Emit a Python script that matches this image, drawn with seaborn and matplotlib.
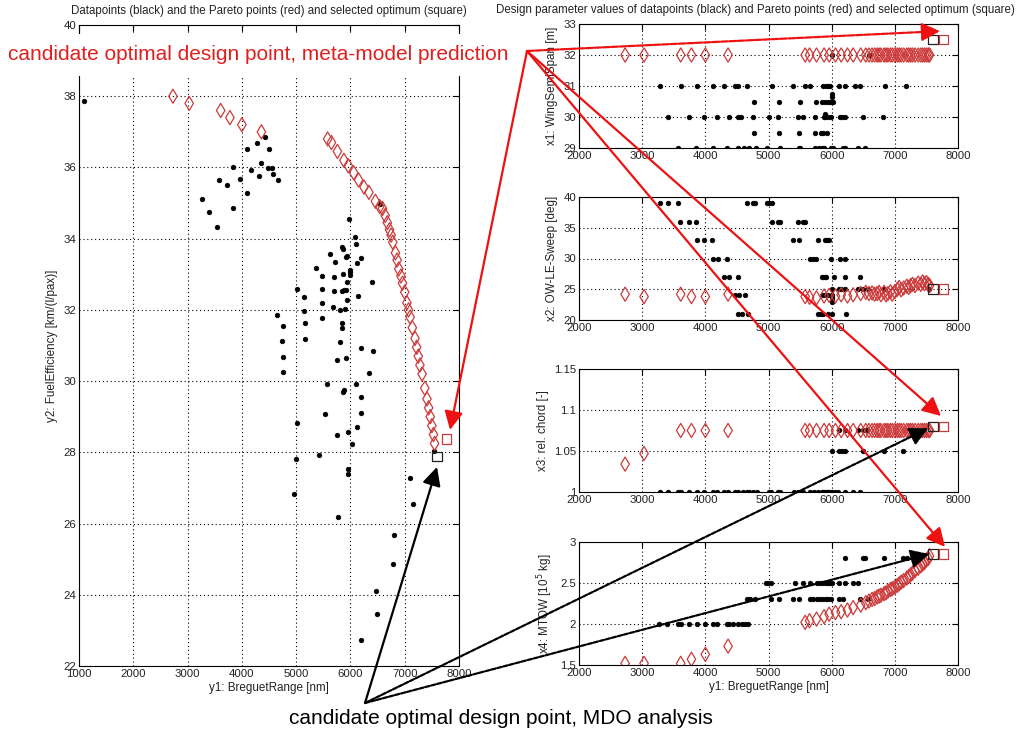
import numpy as np
import pandas as pd
import matplotlib
matplotlib.use("Agg")
import matplotlib.pyplot as plt
import seaborn as sns
from matplotlib.patches import ConnectionPatch
from matplotlib.ticker import FormatStrFormatter

sns.set_theme(style="white")
plt.rcParams['font.family'] = ['Liberation Sans', 'DejaVu Sans']

# ---------------- data: objectives of datapoints (black) ----------------
range_black = [1100, 3260, 3395, 3537, 3585, 3721, 3830, 3842, 3966, 4089,
               4089, 4168, 4273, 4322, 4353, 4432, 4494, 4487, 4549, 4580,
               4660, 4641, 4751, 4733, 4751, 4764, 5021, 5144, 5144, 5163,
               5163, 5365, 5470, 5470, 5470, 5470, 5623, 5716, 5703, 5703,
               5685, 5808, 5808, 5758, 5837, 5870, 5856, 5850, 5880, 5893,
               5845, 5839, 5911, 5930, 5930, 5920, 5942, 5918, 5979, 5991,
               5991, 5991, 6084, 6102, 6115, 6188, 6145, 6188, 6391, 6421,
               6347, 6545, 5562, 6102, 5881, 5870, 6188, 5008, 5532, 6194,
               6115, 5961, 5758, 6022, 7546, 4997, 5427, 5961, 5961, 4960,
               5777, 7098, 7147, 6808, 6790, 6465, 6495, 6188]
eff_black = [37.87, 35.11, 34.76, 34.32, 35.65, 35.51, 34.87, 36.0, 35.67, 36.51,
             35.27, 35.93, 36.68, 35.76, 36.13, 36.85, 36.51, 35.98, 35.98, 35.81,
             35.65, 31.86, 31.55, 31.13, 30.69, 30.26, 32.6, 32.35, 31.98, 31.62,
             31.19, 33.17, 32.95, 32.58, 32.2, 31.78, 33.57, 33.35, 32.93, 32.54,
             32.07, 32.0, 31.11, 30.59, 33.76, 33.7, 33.0, 32.53, 32.55, 32.03,
             31.62, 31.5, 33.49, 33.5, 32.79, 32.55, 32.28, 30.64, 34.54, 33.12,
             33.05, 32.98, 34.06, 33.85, 33.31, 33.45, 32.4, 30.94, 32.78, 30.85,
             30.24, 34.97, 29.93, 29.92, 29.75, 29.7, 29.56, 28.81, 29.07, 29.1,
             28.7, 28.58, 28.49, 28.23, 28.05, 27.81, 27.92, 27.52, 27.4, 26.82,
             26.18, 27.27, 26.55, 25.67, 24.86, 24.11, 23.46, 22.73]

# ---------------- data: Pareto points (red) ----------------
range_pareto = [2730, 3030, 3610, 3780, 4000, 4360, 5580, 5650, 5760, 5880,
                5960, 6060, 6150, 6250, 6340, 6460, 6540, 6590, 6640, 6680,
                6720, 6750, 6780, 6830, 6860, 6890, 6930, 6960, 7000, 7040,
                7070, 7100, 7140, 7190, 7220, 7250, 7280, 7320, 7370, 7410,
                7440, 7470, 7500, 7530, 7550]
eff_pareto = [38.0, 37.8, 37.6, 37.4, 37.2, 37.0, 36.8, 36.7, 36.45, 36.2,
              36.05, 35.85, 35.65, 35.45, 35.3, 35.05, 34.9, 34.85, 34.65, 34.45,
              34.25, 34.1, 33.9, 33.6, 33.4, 33.15, 32.95, 32.75, 32.5, 32.2,
              32.0, 31.8, 31.5, 31.2, 30.95, 30.7, 30.45, 30.2, 29.8, 29.5,
              29.25, 29.0, 28.75, 28.5, 28.25]
span_pareto = [32, 32, 32, 32, 32, 32, 32, 32, 32, 32,
               32, 32, 32, 32, 32, 32, 32, 32, 32, 32,
               32, 32, 32, 32, 32, 32, 32, 32, 32, 32,
               32, 32, 32, 32, 32, 32, 32, 32, 32, 32,
               32, 32, 32, 32, 32]
sweep_pareto = [24.2, 23.8, 24.2, 23.8, 23.8, 24.2, 23.8, 23.7, 23.6, 23.9,
                24.0, 23.9, 24.1, 23.9, 24.1, 24.3, 24.5, 24.3, 24.4, 24.2,
                24.3, 24.5, 24.1, 24.5, 24.1, 24.3, 24.6, 24.2, 24.6, 25.0,
                25.3, 24.9, 25.2, 25.5, 25.3, 25.6, 25.8, 25.6, 26.0, 25.8,
                26.2, 25.9, 26.1, 25.8, 25.6]
chord_pareto = [1.034, 1.047, 1.075, 1.075, 1.075, 1.075, 1.075, 1.075, 1.075, 1.075,
                1.075, 1.075, 1.075, 1.075, 1.075, 1.075, 1.075, 1.075, 1.075, 1.075,
                1.075, 1.075, 1.075, 1.075, 1.075, 1.075, 1.075, 1.075, 1.075, 1.075,
                1.075, 1.075, 1.075, 1.075, 1.075, 1.075, 1.075, 1.075, 1.075, 1.075,
                1.075, 1.075, 1.075, 1.075, 1.075]
mtow_pareto = [1.52, 1.52, 1.52, 1.57, 1.63, 1.73, 2.02, 2.04, 2.06, 2.09,
               2.12, 2.14, 2.15, 2.17, 2.20, 2.23, 2.26, 2.28, 2.30, 2.31,
               2.33, 2.34, 2.35, 2.37, 2.38, 2.40, 2.42, 2.43, 2.45, 2.47,
               2.49, 2.51, 2.53, 2.56, 2.58, 2.60, 2.62, 2.65, 2.68, 2.71,
               2.73, 2.75, 2.78, 2.80, 2.83]

# ---------------- data: selected optimum (squares) ----------------
opt_labels = ["MDO analysis", "meta-model prediction"]
opt_range = [7600, 7770]
opt_eff = [27.88, 28.38]
opt_span = [32.5, 32.5]
opt_sweep = [25.0, 25.0]
opt_chord = [1.08, 1.08]
opt_mtow = [2.85, 2.85]

# ---------------- data: design parameters of datapoints (black) ----------------
span_31 = [3282, 3610, 3873, 4116, 4295, 4470, 4522, 4654, 5050, 5393, 5578, 5657,
           5868, 5910, 5947, 5974, 6121, 6211, 6369, 6449, 6844, 7177]
span_305 = [4776, 5161, 5499, 5752, 5842, 5895, 5947, 5974, 6000, 6026]
span_30 = [3404, 3741, 3979, 4190, 4380, 4522, 4559, 4760, 5013, 5156, 5473, 5552,
           5742, 5879, 5895, 5947, 5984, 6132, 6158, 6211, 6491, 6818]
span_295 = [4776, 5172, 5488, 5736, 5831, 5868, 5921]
span_29 = [3562, 3852, 4116, 4348, 4512, 4612, 4697, 4802, 4982, 5182, 5488, 5499,
           5731, 5794, 5842, 5879, 5984, 6016, 6185, 6211, 6422, 6528]
span_32 = [6000, 6590]
span_extra_x = [6000, 6010, 5900]
span_extra_y = [30.65, 30.73, 30.1]

sweep_39 = [3282, 3414, 3562, 4654, 4760, 4786, 4982, 5013, 5050]
sweep_36 = [3599, 3747, 3852, 5050, 5156, 5182, 5473, 5552, 5578]
sweep_33 = [3863, 3979, 4111, 5383, 5488, 5789, 5895, 5921, 5958]
sweep_30 = [4116, 4206, 4348, 5657, 5710, 5752, 5984, 6132, 6211]
sweep_27 = [4295, 4380, 4522, 5842, 5868, 5895, 5910, 6037, 6211, 6449]
sweep_25 = [5999, 6121, 6142, 6211, 6422, 6501, 6580, 6828, 7546]
sweep_24 = [4470, 4538, 4628, 5868, 5910, 5947, 6000]
sweep_21 = [4512, 4575, 4681, 5789, 5831, 5868, 5947, 6000, 6227]
sweep_extra_x = [6000, 6000, 6005]
sweep_extra_y = [23.5, 23.2, 22.9]

chord_100 = [3282, 3414, 3573, 3610, 3741, 3863, 3979, 4116, 4190, 4295, 4364, 4470,
             4522, 4591, 4654, 4697, 4760, 4813, 5013, 5034, 5156, 5182, 5404, 5473,
             5499, 5552, 5657, 5726, 5789, 5842, 5868, 5895, 5921, 5947, 5974, 6000,
             6053, 6106, 6211, 6343, 6449]
chord_105 = [6000, 6121, 6158, 6211, 6501, 6828, 7124]
chord_1075 = [6121, 6211, 6422, 6501, 6554]

mtow_28 = [6211, 6501, 6528, 6828, 7124, 7188]
mtow_25 = [4960, 4997, 5034, 5420, 5552, 5657, 5773, 5815, 5868, 5910, 5947, 5974,
           6000, 6121, 6211, 6343, 6422]
mtow_23 = [4654, 4707, 4786, 5034, 5172, 5393, 5488, 5657, 5710, 5773, 5815, 5868,
           5910, 5947, 5984, 6121, 6174, 6449, 6580]
mtow_20 = [3272, 3388, 3573, 3610, 3741, 3863, 3995, 4116, 4190, 4338, 4380, 4443,
           4522, 4575, 4628, 4681]


def levels(pairs, extra_x=(), extra_y=()):
    xs, ys = [], []
    for lvl, arr in pairs:
        xs += list(arr)
        ys += [lvl] * len(arr)
    xs += list(extra_x)
    ys += list(extra_y)
    return pd.DataFrame({"range": xs, "val": ys})


df_span = levels([(31, span_31), (30.5, span_305), (30, span_30), (29.5, span_295),
                  (29, span_29), (32, span_32)], span_extra_x, span_extra_y)
df_sweep = levels([(39, sweep_39), (36, sweep_36), (33, sweep_33), (30, sweep_30),
                   (27, sweep_27), (25, sweep_25), (24, sweep_24), (21, sweep_21)],
                  sweep_extra_x, sweep_extra_y)
df_chord = levels([(1.0, chord_100), (1.05, chord_105), (1.075, chord_1075)])
df_mtow = levels([(2.8, mtow_28), (2.5, mtow_25), (2.3, mtow_23), (2.0, mtow_20)])

df_left = pd.DataFrame({"range": range_black, "val": eff_black})
df_par = pd.DataFrame({"range": range_pareto, "eff": eff_pareto, "span": span_pareto,
                       "sweep": sweep_pareto, "chord": chord_pareto, "mtow": mtow_pareto})
df_opt = pd.DataFrame({"label": opt_labels, "range": opt_range, "eff": opt_eff,
                       "span": opt_span, "sweep": opt_sweep, "chord": opt_chord,
                       "mtow": opt_mtow})

RED_MK = '#cc3a3a'
TXT = '#222222'
W, H = 1030, 737
fig = plt.figure(figsize=(W / 100, H / 100), dpi=100)
fig.patch.set_facecolor('white')


def px_axes(l, t, r, b):
    return fig.add_axes([l / W, (H - b) / H, (r - l) / W, (b - t) / H])


ax0 = px_axes(79, 25, 459, 666)
ax1 = px_axes(579, 24, 958, 148)
ax2 = px_axes(579, 197, 958, 320)
ax3 = px_axes(579, 369, 958, 492)
ax4 = px_axes(579, 542, 958, 665)


def style(ax, xlim, ylim, xticks, yticks):
    ax.set_xlim(xlim)
    ax.set_ylim(ylim)
    ax.set_xticks(xticks)
    ax.set_yticks(yticks)
    ax.xaxis.set_major_formatter(FormatStrFormatter('%g'))
    ax.yaxis.set_major_formatter(FormatStrFormatter('%g'))
    ax.grid(True, linestyle=(0, (1, 2.5)), color='black', linewidth=0.8)
    ax.set_axisbelow(True)
    ax.tick_params(direction='in', top=True, right=True, length=4, width=0.8,
                   labelsize=8.2, labelcolor=TXT, color='black', pad=2)
    for s in ax.spines.values():
        s.set_color('black')
        s.set_linewidth(0.8)
    ax.set_facecolor('white')


def draw(ax, dfb, xcol, ycol, pcol):
    sns.scatterplot(data=dfb, x=xcol, y=ycol, ax=ax, color='black', marker='o',
                    s=11, linewidth=0.5, edgecolor='black', zorder=3, legend=False)
    sns.scatterplot(data=df_par, x="range", y=pcol, ax=ax, marker='d', s=52,
                    linewidth=0.9, zorder=4, legend=False)
    c = ax.collections[-1]
    c.set_facecolor('none')
    c.set_edgecolor(RED_MK)
    sns.scatterplot(data=df_opt, x="range", y=pcol, ax=ax, hue="label",
                    palette={"MDO analysis": TXT, "meta-model prediction": RED_MK},
                    marker='s', s=48, linewidth=0.9, zorder=5, legend=False)
    c = ax.collections[-1]
    c.set_facecolor('none')
    c.set_edgecolor([TXT, RED_MK])


LBL = 8.4

draw(ax0, df_left, "range", "val", "eff")
style(ax0, (1000, 8000), (22, 40), range(1000, 8001, 1000), range(22, 41, 2))
ax0.set_xlabel("y1: BreguetRange [nm]", fontsize=LBL, color=TXT, labelpad=2)
ax0.set_ylabel("y2: FuelEfficiency [km/(l/pax)]", fontsize=LBL, color=TXT, labelpad=4)
ax0.set_title("Datapoints (black) and the Pareto points (red) and selected optimum (square)",
              fontsize=8.3, color=TXT, pad=8)

draw(ax1, df_span, "range", "val", "span")
style(ax1, (2000, 8000), (29, 33), range(2000, 8001, 1000), [29, 30, 31, 32, 33])
ax1.set_ylabel("x1: WingSemiSpan [m]", fontsize=LBL, color=TXT, labelpad=4)
ax1.set_xlabel("")

draw(ax2, df_sweep, "range", "val", "sweep")
style(ax2, (2000, 8000), (20, 40), range(2000, 8001, 1000), [20, 25, 30, 35, 40])
ax2.set_ylabel("x2: OW-LE-Sweep [deg]", fontsize=LBL, color=TXT, labelpad=4)
ax2.set_xlabel("")

draw(ax3, df_chord, "range", "val", "chord")
style(ax3, (2000, 8000), (1.0, 1.15), range(2000, 8001, 1000), [1.0, 1.05, 1.1, 1.15])
ax3.set_ylabel("x3: rel. chord [-]", fontsize=LBL, color=TXT, labelpad=4)
ax3.set_xlabel("")

draw(ax4, df_mtow, "range", "val", "mtow")
style(ax4, (2000, 8000), (1.5, 3.0), range(2000, 8001, 1000), [1.5, 2.0, 2.5, 3.0])
ax4.set_ylabel("x4: MTOW [10$^5$ kg]", fontsize=LBL, color=TXT, labelpad=4)
ax4.set_xlabel("y1: BreguetRange [nm]", fontsize=LBL, color=TXT, labelpad=2)

fig.text(755 / W, 1 - 10 / H,
         "Design parameter values of datapoints (black) and Pareto points (red) and selected optimum (square)",
         ha='center', va='center', fontsize=8.3, color=TXT)

# annotation texts
fig.text(8 / W, 1 - 55 / H, "candidate optimal design point, meta-model prediction",
         ha='left', va='center', fontsize=15, color='#e01f1f', zorder=10,
         bbox=dict(facecolor='white', edgecolor='none', pad=8))
fig.text(501 / W, 1 - 718 / H, "candidate optimal design point, MDO analysis",
         ha='center', va='center', fontsize=15, color='black', zorder=10,
         bbox=dict(facecolor='white', edgecolor='none', pad=3))

# arrows
red_origin = (527, H - 51)
red_targets = [(ax0, (7834, 28.63), '-'), (ax1, (7715, 32.77), (0, (3, 0.8))),
               (ax3, (7731, 1.0927), '-'), (ax4, (7794, 2.94), '-')]
for ax, xy, ls in red_targets:
    cp = ConnectionPatch(xyA=red_origin, coordsA='figure pixels', xyB=xy, coordsB=ax.transData,
                         arrowstyle='-|>', mutation_scale=28, color='#ee1111', linewidth=1.6,
                         linestyle=ls, shrinkA=0, shrinkB=0, zorder=20)
    fig.add_artist(cp)

blk_origin = (365, H - 703)
blk_targets = [(ax0, (7595, 27.59), '-'), (ax3, (7530, 1.0777), (0, (2, 0.8))),
               (ax4, (7546, 2.854), (0, (2, 0.8)))]
for ax, xy, ls in blk_targets:
    cp = ConnectionPatch(xyA=blk_origin, coordsA='figure pixels', xyB=xy, coordsB=ax.transData,
                         arrowstyle='-|>', mutation_scale=28, color='black', linewidth=1.6,
                         linestyle=ls, shrinkA=0, shrinkB=0, zorder=20)
    fig.add_artist(cp)

fig.savefig("out.png", dpi=100, facecolor='white')
